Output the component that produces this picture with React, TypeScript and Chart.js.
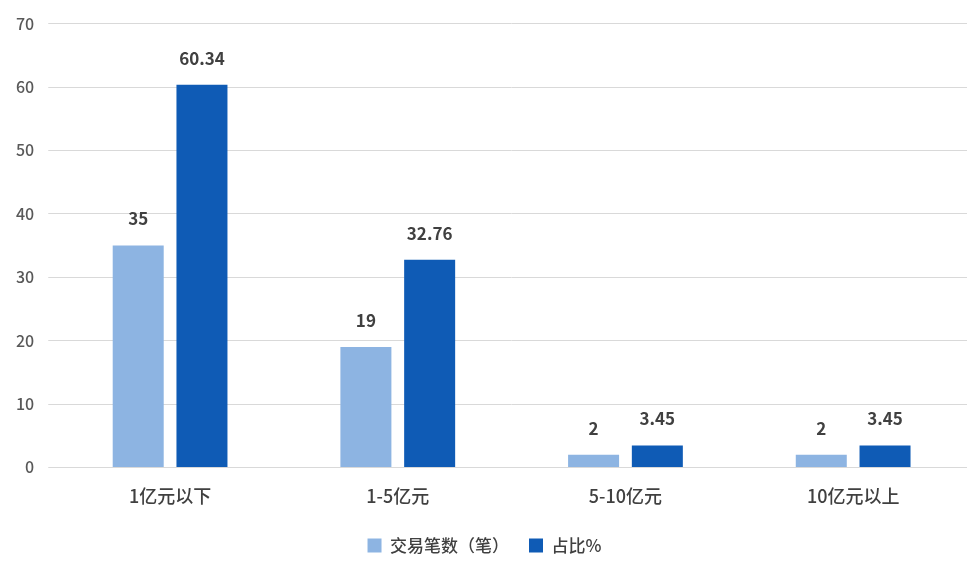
import { useEffect, useRef } from 'react'
import { Chart, registerables } from 'chart.js'

Chart.register(...registerables)

const categories = ['1亿元以下', '1-5亿元', '5-10亿元', '10亿元以上']
const countValues = [35, 19, 2, 2]
const shareValues = [60.34, 32.76, 3.45, 3.45]
const countLabels = ['35', '19', '2', '2']
const shareLabels = ['60.34', '32.76', '3.45', '3.45']

const font = '"Noto Sans CJK SC", "Noto Sans", sans-serif'

const valueLabels = {
  id: 'valueLabels',
  afterDatasetsDraw(chart: Chart) {
    const ctx = chart.ctx
    ctx.save()
    ctx.font = `bold 17px ${font}`
    ctx.fillStyle = '#404040'
    ctx.textAlign = 'center'
    ctx.textBaseline = 'bottom'
    chart.data.datasets.forEach((ds, i) => {
      const labels = i === 0 ? countLabels : shareLabels
      chart.getDatasetMeta(i).data.forEach((bar, j) => {
        ctx.fillText(labels[j], bar.x, bar.y - 18)
      })
    })
    ctx.restore()
  },
}

export default function App() {
  const canvasRef = useRef<HTMLCanvasElement>(null)

  useEffect(() => {
    if (!canvasRef.current) return
    const chart = new Chart(canvasRef.current, {
      type: 'bar',
      data: {
        labels: categories,
        datasets: [
          { label: '交易笔数（笔）', data: countValues, backgroundColor: '#8DB4E2', barPercentage: 0.8, categoryPercentage: 0.56 },
          { label: '占比%', data: shareValues, backgroundColor: '#0F5BB5', barPercentage: 0.8, categoryPercentage: 0.56 },
        ],
      },
      options: {
        animation: false,
        responsive: true,
        maintainAspectRatio: false,
        layout: { padding: { top: 12, right: 0, left: 2, bottom: 7 } },
        plugins: {
          legend: {
            position: 'bottom',
            labels: { boxWidth: 14, boxHeight: 14, color: '#404040', font: { family: font, size: 17, weight: 500 }, padding: 20 },
          },
          tooltip: { enabled: false },
        },
        scales: {
          y: {
            min: 0,
            max: 70,
            ticks: { stepSize: 10, color: '#595959', font: { family: font, size: 16, weight: 500 }, padding: 14 },
            grid: { color: '#D9D9D9' },
            border: { display: false },
          },
          x: {
            ticks: { color: '#404040', font: { family: font, size: 18, weight: 500 }, padding: 10 },
            grid: { display: false },
            border: { color: '#D9D9D9' },
          },
        },
      },
      plugins: [valueLabels],
    })
    return () => chart.destroy()
  }, [])

  return (
    <div style={{ position: 'absolute', left: 0, top: 0, width: 967, height: 571, background: '#fff' }}>
      <canvas ref={canvasRef}></canvas>
    </div>
  )
}
